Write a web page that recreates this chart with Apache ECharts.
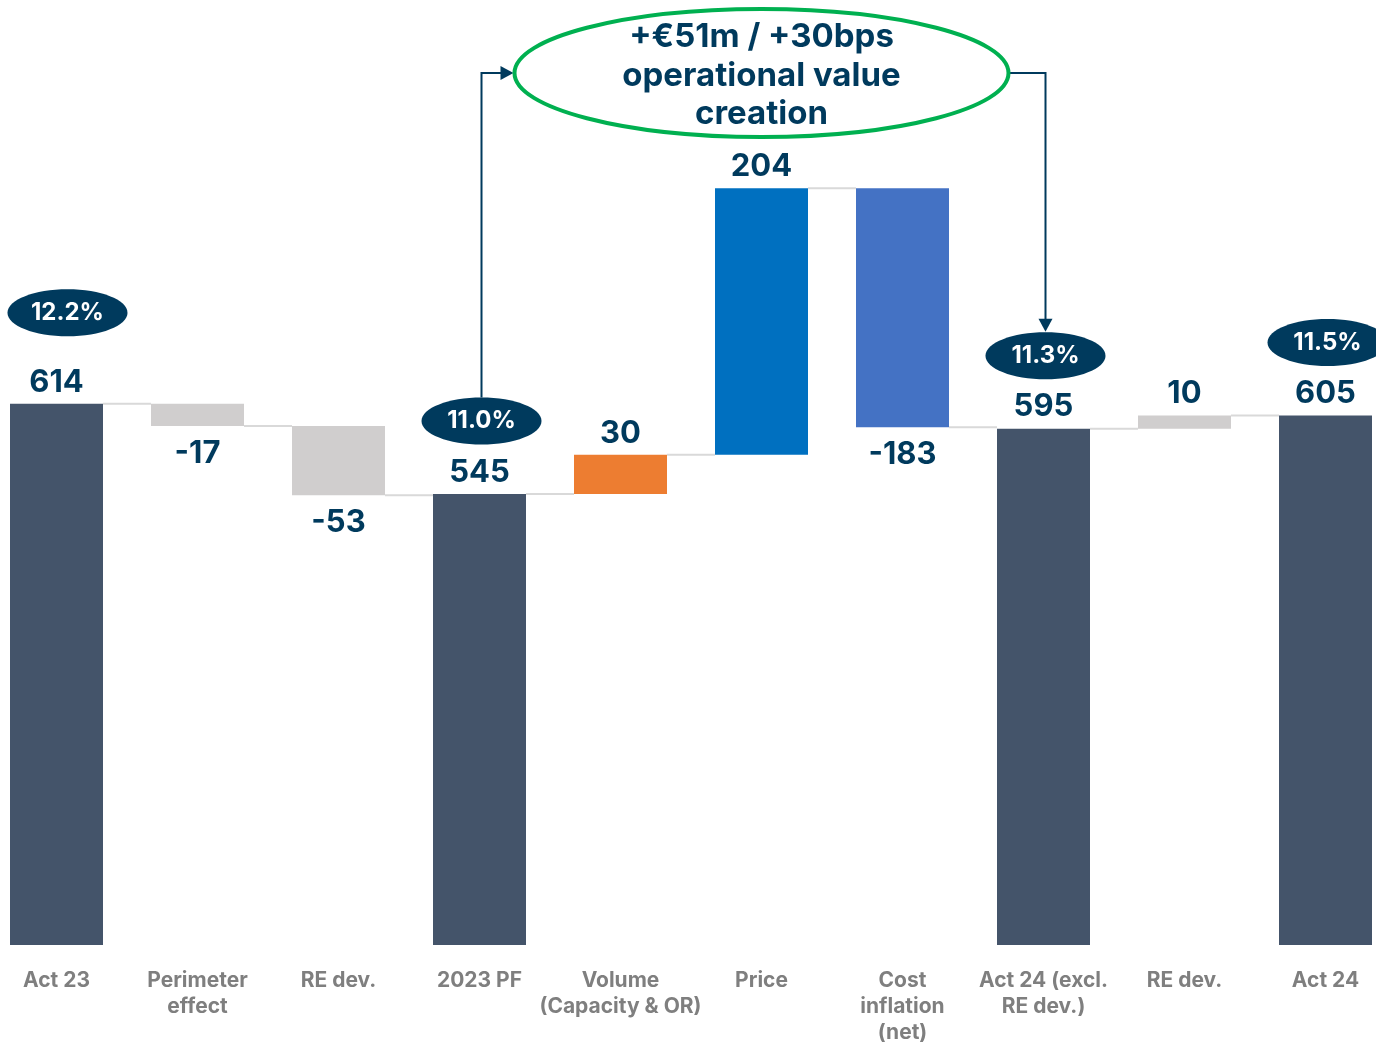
<!DOCTYPE html>
<html>
<head>
<meta charset="utf-8">
<script src="https://cdn.jsdelivr.net/npm/echarts@6/dist/echarts.min.js"></script>
<style>
html,body{margin:0;padding:0;background:#fff;overflow:hidden;width:1376px;height:1043px;}
#chart{width:1410px;height:1043px;margin-left:-14px;}
</style>
</head>
<body>
<div id="chart"></div>
<script>
// ---- data ----
const categories = ['Act 23', 'Perimeter\neffect', 'RE dev.', '2023 PF', 'Volume\n(Capacity & OR)', 'Price', 'Cost\ninflation\n(net)', 'Act 24 (excl.\nRE dev.)', 'RE dev.', 'Act 24'];
const values = [614, -17, -53, 545, 30, 204, -183, 595, 10, 605];
const kinds = ['total', 'delta', 'delta', 'total', 'delta', 'delta', 'delta', 'total', 'delta', 'total'];
const margins = ['12.2%', null, null, '11.0%', null, null, null, '11.3%', null, '11.5%'];
const annotationText = '+€51m / +30bps\noperational value\ncreation';
const yTicks = { min: 200, max: 900 };

// ---- styles ----
const NAVY = '#003A5D';
const FONT = 'Inter';
const BAR_W = 93;
function barColor(i) {
  if (kinds[i] === 'total') return '#44546A';
  const c = categories[i];
  if (c.startsWith('Volume')) return '#ED7D31';
  if (c === 'Price') return '#0070C0';
  if (c.startsWith('Cost')) return '#4472C4';
  return '#D0CECE';
}

// ---- waterfall computation ----
const base = [], height = [], endLevel = [];
let level = 0;
values.forEach((v, i) => {
  if (kinds[i] === 'total') {
    base.push(0); height.push(v); level = v;
  } else if (v >= 0) {
    base.push(level); height.push(v); level += v;
  } else {
    level += v; base.push(level); height.push(-v);
  }
  endLevel.push(level);
});

const chart = echarts.init(document.getElementById('chart'));

const option = {
  animation: false,
  grid: { left: 0, right: 0, top: 30, bottom: 98, containLabel: false, outerBoundsMode: 'none' },
  xAxis: {
    type: 'category',
    data: categories,
    axisLine: { show: false },
    axisTick: { show: false },
    axisLabel: {
      interval: 0,
      margin: 23,
      color: '#7F7F7F',
      fontFamily: FONT,
      fontWeight: 700,
      fontSize: 21,
      lineHeight: 26
    }
  },
  yAxis: {
    type: 'value',
    min: yTicks.min,
    max: yTicks.max,
    show: false,
    splitLine: { show: false }
  },
  series: [
    {
      type: 'bar',
      stack: 'wf',
      barWidth: BAR_W,
      itemStyle: { color: 'transparent' },
      data: base,
      silent: true
    },
    {
      type: 'bar',
      stack: 'wf',
      barWidth: BAR_W,
      data: height.map((h, i) => ({
        value: h,
        itemStyle: { color: barColor(i) },
        label: {
          position: values[i] < 0 ? 'bottom' : 'top',
          distance: values[i] < 0 ? 12 : 6
        }
      })),
      label: {
        show: true,
        color: NAVY,
        fontFamily: FONT,
        fontWeight: 700,
        fontSize: 31,
        formatter: p => String(values[p.dataIndex])
      }
    },
    {
      type: 'custom',
      silent: true,
      z: 1,
      data: endLevel.slice(0, -1).map((lv, i) => [i, lv]),
      renderItem: (params, api) => {
        const i = api.value(0);
        const lv = api.value(1);
        const p1 = api.coord([i, lv]);
        const p2 = api.coord([i + 1, lv]);
        return {
          type: 'line',
          shape: { x1: p1[0] + BAR_W / 2, y1: p1[1], x2: p2[0] - BAR_W / 2, y2: p2[1] },
          style: { stroke: '#D9D9D9', lineWidth: 2 }
        };
      }
    }
  ]
};
chart.setOption(option);

// ---- annotations (badges, ellipse, arrows) ----
function px(i, v) { return chart.convertToPixel({ gridIndex: 0 }, [i, v]); }
const graphics = [];
const badgeRise = { 0: 91 };
const badgePos = {};
margins.forEach((m, i) => {
  if (!m) return;
  const top = px(i, endLevel[i]);
  const cx = top[0] + (i === 0 ? 11 : 2);
  const cy = top[1] - (badgeRise[i] || 73);
  badgePos[i] = [cx, cy];
  graphics.push({
    type: 'ellipse', z: 10,
    shape: { cx: cx, cy: cy, rx: 60, ry: 23.5 },
    style: { fill: NAVY }
  });
  graphics.push({
    type: 'text', z: 11, x: cx, y: cy,
    style: { text: m, fill: '#fff', font: '700 24px ' + FONT, align: 'center', verticalAlign: 'middle' }
  });
});

const priceIdx = categories.indexOf('Price');
const ecx = px(priceIdx, 0)[0];
const ecy = 73, erx = 247, ery = 64;
graphics.push({
  type: 'ellipse', z: 10,
  shape: { cx: ecx, cy: ecy, rx: erx, ry: ery },
  style: { fill: '#fff', stroke: '#00B050', lineWidth: 4 }
});
graphics.push({
  type: 'text', z: 11, x: ecx, y: ecy + 3,
  style: { text: annotationText, fill: NAVY, font: '700 33px ' + FONT, lineHeight: 38.5, align: 'center', verticalAlign: 'middle' }
});

// left arrow: from 2023 PF badge up to ellipse
const pfIdx = 3, exIdx = 7;
const lb = badgePos[pfIdx];
const lTipX = ecx - erx - 1;
graphics.push({
  type: 'polyline', z: 9,
  shape: { points: [[lb[0], lb[1] - 23.5], [lb[0], ecy], [lTipX - 10, ecy]] },
  style: { stroke: NAVY, lineWidth: 2, fill: null }
});
graphics.push({
  type: 'polygon', z: 9,
  shape: { points: [[lTipX, ecy], [lTipX - 13, ecy - 7], [lTipX - 13, ecy + 7]] },
  style: { fill: NAVY }
});
// right arrow: from ellipse down to Act 24 (excl.) badge
const rb = badgePos[exIdx];
const rTipY = rb[1] - 24;
graphics.push({
  type: 'polyline', z: 9,
  shape: { points: [[ecx + erx + 1, ecy], [rb[0], ecy], [rb[0], rTipY - 10]] },
  style: { stroke: NAVY, lineWidth: 2, fill: null }
});
graphics.push({
  type: 'polygon', z: 9,
  shape: { points: [[rb[0], rTipY], [rb[0] - 7, rTipY - 13], [rb[0] + 7, rTipY - 13]] },
  style: { fill: NAVY }
});

chart.setOption({ graphic: graphics });
</script>
</body>
</html>
